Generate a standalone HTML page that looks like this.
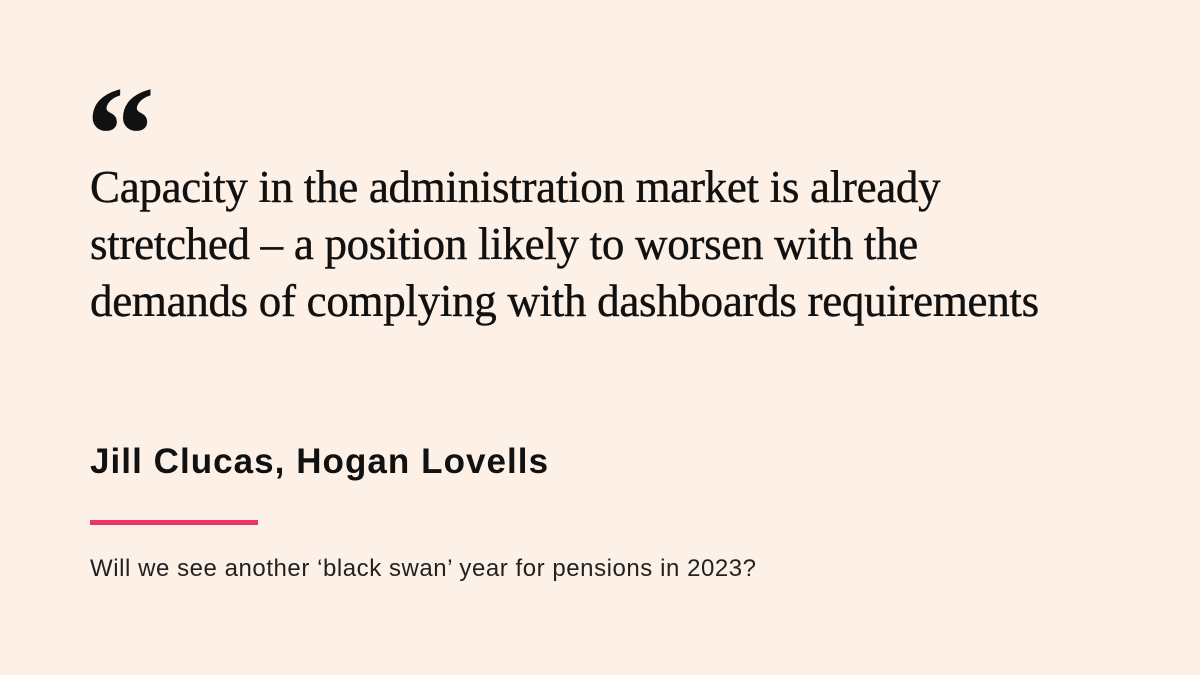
<!DOCTYPE html>
<html><head><meta charset="utf-8"><style>
html,body{margin:0;padding:0}
body{width:1200px;height:675px;background:#fdf0e6;position:relative;overflow:hidden}
.q{position:absolute;left:86px;top:66px;font-family:"Liberation Serif",serif;font-size:138px;font-weight:bold;color:#111;line-height:1}
.quote{position:absolute;left:90px;top:159px;width:1100px;font-family:"Liberation Serif",serif;font-size:45px;line-height:57px;color:#111;letter-spacing:-0.3px;-webkit-text-stroke:0.4px #111}
.author{position:absolute;left:90px;top:442px;font-family:"Liberation Sans",sans-serif;font-size:35px;font-weight:bold;color:#111;letter-spacing:1.05px}
.bar{position:absolute;left:90px;top:520px;width:168px;height:5px;background:#f0336c}
.sub{position:absolute;left:90px;top:555px;font-family:"Liberation Sans",sans-serif;font-size:24px;color:#222;letter-spacing:0.55px}
</style></head><body>
<div class="q">“</div>
<div class="quote">Capacity in the administration market is already<br>stretched – a position likely to worsen with the<br>demands of complying with dashboards requirements</div>
<div class="author">Jill Clucas, Hogan Lovells</div>
<div class="bar"></div>
<div class="sub">Will we see another ‘black swan’ year for pensions in 2023?</div>
</body></html>
